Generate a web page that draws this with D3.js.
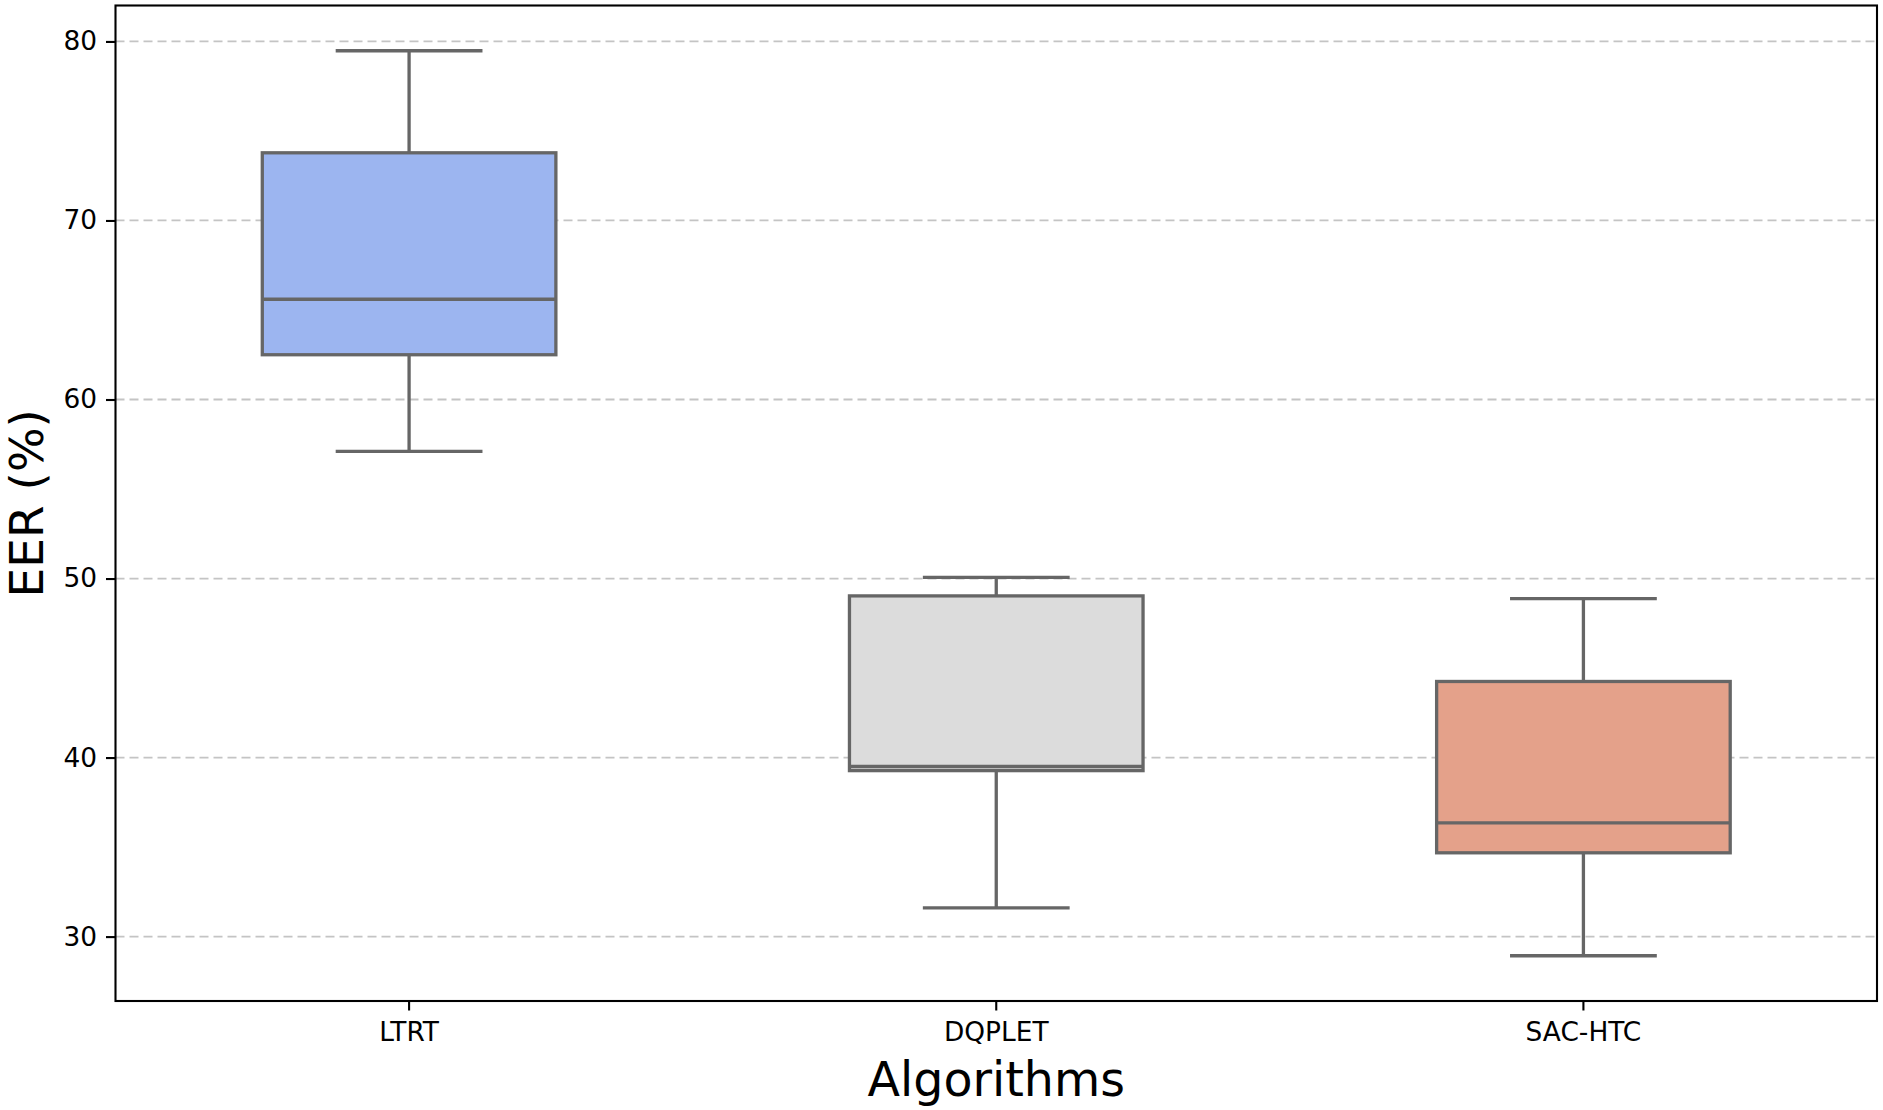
<!DOCTYPE html>
<html>
<head>
<meta charset="utf-8">
<script src="https://cdn.jsdelivr.net/npm/d3@7"></script>
<style>
  html, body { margin: 0; padding: 0; background: #fff; }
  svg { display: block; font-family: "DejaVu Sans", sans-serif; }
</style>
</head>
<body>
<svg id="chart" width="1883" height="1110"></svg>
<script>
// ---- data ----
const categories = ["LTRT", "DQPLET", "SAC-HTC"];
const whiskerLow  = [57.1, 31.6, 28.93];
const q1Values    = [62.5, 39.27, 34.68];
const medians     = [65.6, 39.5, 36.35];
const q3Values    = [73.78, 49.03, 44.25];
const whiskerHigh = [79.48, 50.07, 48.88];
const boxColors   = ["#9cb5f0", "#dcdcdc", "#e4a18a"];
const yTicks      = [30, 40, 50, 60, 70, 80];
const xLabel = "Algorithms";
const yLabel = "EER (%)";

// ---- layout ----
const W = 1883, H = 1110;
const plot = { left: 115.5, right: 1877, top: 5.5, bottom: 1001 };

const svg = d3.select("#chart");

const dataMin = d3.min(whiskerLow), dataMax = d3.max(whiskerHigh);
const pad = (dataMax - dataMin) * 0.05;

const x = d3.scaleBand().domain(categories).range([plot.left, plot.right]).padding(0);
const y = d3.scaleLinear().domain([dataMin - pad, dataMax + pad]).range([plot.bottom, plot.top]);

// grid
svg.append("g").selectAll("line").data(yTicks).join("line")
  .attr("x1", plot.left).attr("x2", plot.right)
  .attr("y1", d => y(d)).attr("y2", d => y(d))
  .attr("stroke", "#c4c4c4").attr("stroke-width", 1.8)
  .attr("stroke-dasharray", "9,5");

const boxes = categories.map((c, i) => ({
  c, lo: whiskerLow[i], q1: q1Values[i], med: medians[i], q3: q3Values[i], hi: whiskerHigh[i], color: boxColors[i]
}));

const bw = x.bandwidth() * 0.5;
const capW = bw * 0.5;
const lineColor = "#666666";
const lw = 3.3;

const g = svg.append("g");
boxes.forEach(b => {
  const cx = x(b.c) + x.bandwidth() / 2;
  // whiskers
  g.append("line").attr("x1", cx).attr("x2", cx).attr("y1", y(b.q3)).attr("y2", y(b.hi))
    .attr("stroke", lineColor).attr("stroke-width", lw);
  g.append("line").attr("x1", cx).attr("x2", cx).attr("y1", y(b.q1)).attr("y2", y(b.lo))
    .attr("stroke", lineColor).attr("stroke-width", lw);
  // caps
  [b.hi, b.lo].forEach(v => {
    g.append("line").attr("x1", cx - capW / 2).attr("x2", cx + capW / 2)
      .attr("y1", y(v)).attr("y2", y(v))
      .attr("stroke", lineColor).attr("stroke-width", lw);
  });
  // box
  g.append("rect").attr("x", cx - bw / 2).attr("width", bw)
    .attr("y", y(b.q3)).attr("height", y(b.q1) - y(b.q3))
    .attr("fill", b.color).attr("stroke", lineColor).attr("stroke-width", lw);
  // median
  g.append("line").attr("x1", cx - bw / 2).attr("x2", cx + bw / 2)
    .attr("y1", y(b.med)).attr("y2", y(b.med))
    .attr("stroke", lineColor).attr("stroke-width", lw);
});

// axes
const xAxis = d3.axisBottom(x).tickSizeOuter(0).tickSizeInner(9.5).tickPadding(12);
const yAxis = d3.axisLeft(y).tickValues(yTicks).tickSizeOuter(0).tickSizeInner(9.5).tickPadding(9);

const gx = svg.append("g").attr("transform", `translate(0,${plot.bottom})`).call(xAxis);
const gy = svg.append("g").attr("transform", `translate(${plot.left},0)`).call(yAxis);
[gx, gy].forEach(a => {
  a.select(".domain").remove();
  a.selectAll(".tick line").attr("stroke", "#000").attr("stroke-width", 2.1);
  a.selectAll(".tick text").attr("fill", "#000").style("font-size", "26.4px")
    .style("font-family", "'DejaVu Sans', sans-serif");
});

// frame
svg.append("rect").attr("x", plot.left).attr("y", plot.top)
  .attr("width", plot.right - plot.left).attr("height", plot.bottom - plot.top)
  .attr("fill", "none").attr("stroke", "#000").attr("stroke-width", 2.1);

// labels
svg.append("text").attr("x", (plot.left + plot.right) / 2).attr("y", 1096)
  .attr("text-anchor", "middle").style("font-size", "47.5px").attr("fill", "#000")
  .text(xLabel);
svg.append("text")
  .attr("transform", `translate(43,${(plot.top + plot.bottom) / 2}) rotate(-90)`)
  .attr("text-anchor", "middle").style("font-size", "47px").attr("fill", "#000")
  .text(yLabel);
</script>
</body>
</html>
